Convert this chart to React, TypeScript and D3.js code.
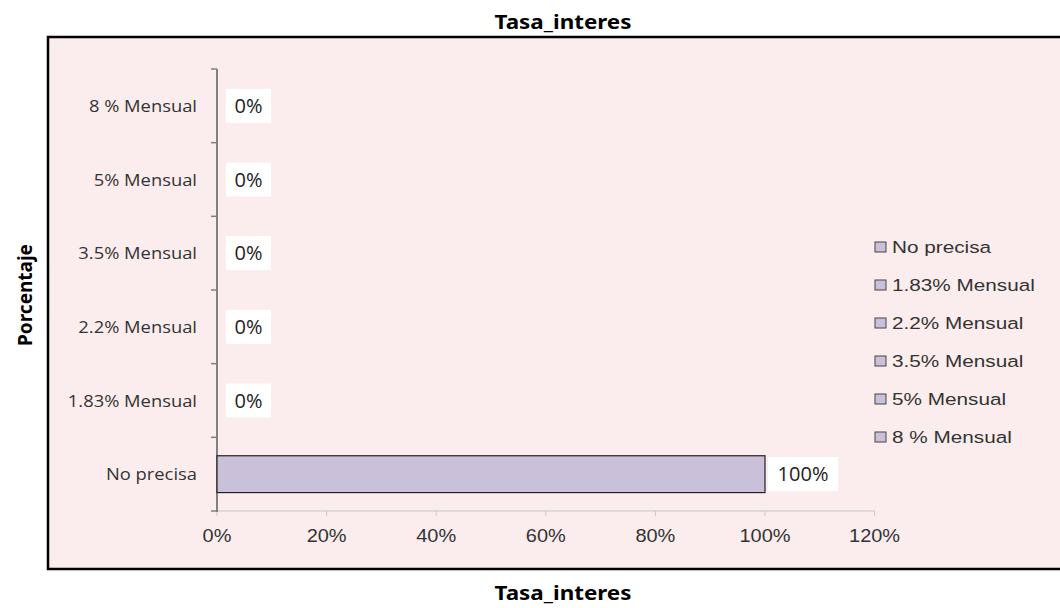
import React, { useRef, useEffect } from "react";
import * as d3 from "d3";

// categories bottom -> top, as in the reference
const categories = ["No precisa", "1.83% Mensual", "2.2% Mensual", "3.5% Mensual", "5% Mensual", "8 % Mensual"];
const values = [100, 0, 0, 0, 0, 0];
const xTicks = [0, 20, 40, 60, 80, 100, 120];
const legendItems = ["No precisa", "1.83% Mensual", "2.2% Mensual", "3.5% Mensual", "5% Mensual", "8 % Mensual"];

export default function App() {
   const svgRef = useRef<SVGSVGElement>(null);

   useEffect(() => {
      const w = 1060;
      const h = 608;
      const svg = d3.select(svgRef.current).attr("width", w).attr("height", h);
      svg.selectAll("*").remove();

      // text helper: the source picture is stretched a bit horizontally
      const addText = (g, x, y, str, size, opts: any = {}) =>
         g.append("g")
            .attr("transform", `translate(${x}, ${y}) ${opts.rotate ? "rotate(-90)" : ""} scale(${opts.sx || 1}, 1)`)
            .append("text")
            .attr("text-anchor", opts.anchor || "start")
            .attr("font-family", opts.font || "Noto Sans, sans-serif")
            .attr("font-weight", opts.bold ? "bold" : "normal")
            .attr("font-size", size)
            .attr("fill", opts.fill || "#000")
            .text(str);

      // frame
      svg.append("rect")
         .attr("x", 48)
         .attr("y", 37)
         .attr("width", 1030)
         .attr("height", 532)
         .attr("fill", "#fbeded")
         .attr("stroke", "#000")
         .attr("stroke-width", 2.5);

      // titles
      addText(svg, 563, 29, "Tasa_interes", 20, { anchor: "middle", bold: true, sx: 1.12 });
      addText(svg, 563, 600, "Tasa_interes", 20, { anchor: "middle", bold: true, sx: 1.12 });
      addText(svg, 32, 295, "Porcentaje", 20, { anchor: "middle", bold: true, rotate: true, sx: 0.95 });

      // scales
      const xScale = d3.scaleLinear().domain([0, 120]).range([217, 874.6]);
      const yScale = d3.scaleBand().domain(categories).range([511, 69]).paddingInner(0.5).paddingOuter(0.25);
      const yOuter = d3.scaleBand().domain(categories).range([511, 69]);

      // x axis
      const xAxis = svg.append("g").attr("transform", "translate(0, 511)");
      xAxis.append("line")
         .attr("x1", xScale(0))
         .attr("x2", xScale(120))
         .attr("stroke", "#c8c8c8")
         .attr("stroke-width", 1.2);
      xAxis.selectAll(".xt")
         .data(xTicks)
         .join("line")
         .attr("x1", (d) => xScale(d))
         .attr("x2", (d) => xScale(d))
         .attr("y1", 0)
         .attr("y2", 5)
         .attr("stroke", "#c8c8c8");
      xTicks.forEach((t) =>
         addText(svg, xScale(t), 542, t + "%", 19, { anchor: "middle", font: "Liberation Sans, Arial, sans-serif", fill: "#333", sx: 1.05 })
      );

      // y axis
      const yAxis = svg.append("g");
      yAxis.append("line")
         .attr("x1", 217)
         .attr("x2", 217)
         .attr("y1", 69)
         .attr("y2", 512)
         .attr("stroke", "#808080")
         .attr("stroke-width", 2);
      const yTickPos = categories.map((c) => yOuter(c)!).concat([511]);
      yAxis.selectAll(".yt")
         .data(yTickPos)
         .join("line")
         .attr("x1", 211)
         .attr("x2", 217)
         .attr("y1", (d) => d)
         .attr("y2", (d) => d)
         .attr("stroke", "#808080")
         .attr("stroke-width", 1.5);
      categories.forEach((c) =>
         addText(svg, 197, yOuter(c)! + yOuter.bandwidth() / 2 + 6, c, 17, { anchor: "end", font: "Open Sans, sans-serif", fill: "#333", sx: 1.08 })
      );

      // bars
      const rows = categories.map((c, i) => ({ cat: c, v: values[i] }));
      svg.selectAll(".bar")
         .data(rows.filter((r) => r.v > 0))
         .join("rect")
         .attr("x", xScale(0))
         .attr("y", (d) => yScale(d.cat)!)
         .attr("width", (d) => xScale(d.v) - xScale(0))
         .attr("height", yScale.bandwidth())
         .attr("fill", "#cbc0da")
         .attr("stroke", "#222")
         .attr("stroke-width", 1.2);

      // value labels
      rows.forEach((r) => {
         const cx = xScale(r.v) + (r.v > 0 ? 3 : 9);
         const cy = yOuter(r.cat)! + yOuter.bandwidth() / 2;
         const bw = r.v >= 100 ? 70 : 45;
         svg.append("rect")
            .attr("x", cx)
            .attr("y", cy - 17)
            .attr("width", bw)
            .attr("height", 34)
            .attr("fill", "#fff");
         addText(svg, cx + bw / 2, cy + 7, r.v + "%", 20, { anchor: "middle", font: "Open Sans, sans-serif", fill: "#222" });
      });

      // legend
      legendItems.forEach((d, i) => {
         const y = 247 + i * 38;
         svg.append("rect")
            .attr("x", 875)
            .attr("y", y - 5)
            .attr("width", 11)
            .attr("height", 10)
            .attr("fill", "#cbc0da")
            .attr("stroke", "#444")
            .attr("stroke-width", 1);
         addText(svg, 892, y + 6, d, 17, { font: "Liberation Sans, Arial, sans-serif", fill: "#333", sx: 1.22 });
      });
   }, []);

   return (
      <div>
         <svg ref={svgRef} style={{ position: "absolute", left: 0, top: 0 }}></svg>
      </div>
   );
}
